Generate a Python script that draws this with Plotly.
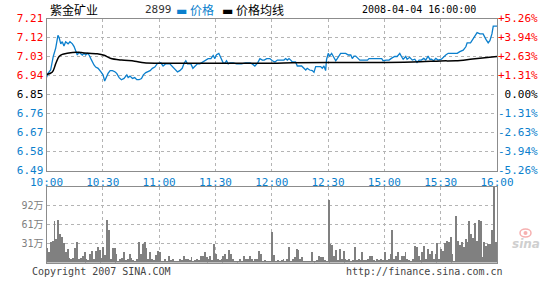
import plotly.graph_objects as go

# ---------------- data ----------------
prev_close = 6.85
time_labels = ["10:00", "10:30", "11:00", "11:30", "12:00", "12:30", "15:00", "15:30", "16:00"]
time_ticks = [0, 30, 60, 90, 120, 150, 180, 210, 240]   # trading-minute index

price_ticks = [7.21, 7.12, 7.03, 6.94, 6.85, 6.76, 6.67, 6.58, 6.49]
pct_labels = ["+5.26%", "+3.94%", "+2.63%", "+1.31%", "0.00%", "-1.31%", "-2.63%", "-3.94%", "-5.26%"]

price_minutes = [0, 0.8, 2.2, 3.6, 4.9, 6.1, 6.7, 7.6, 8.4, 9.3, 10.2, 11.5, 12.5, 13.8, 14.7, 15.6, 16.4, 17.3,
                 18.2, 19.1, 20, 20.9, 21.8, 22.7, 23.6, 24.4, 25.3, 26.2, 27.5, 28.9, 30.1, 31.0, 31.7, 32.8,
                 33.9, 35.1, 36.4, 37.4, 38.7, 39.9, 41.3, 42.8, 43.5, 44.5, 45.8, 47, 48.1, 49.3, 50.6, 51.6,
                 52.9, 54.1, 55.2, 56.4, 57.7, 59.1,
                 60.9, 62.1, 63.4, 65.7, 67, 68.4, 69.8, 71, 72.3, 73.3, 74.2, 75.1, 76.9, 78, 79, 80.4, 81.7,
                 83.5, 84.7, 86.1, 87.6, 88.8, 89.7, 90.6, 91.8, 92.9, 94.1, 95, 95.9, 96.8, 97.7, 99.5, 101.3,
                 103.9, 106.1, 108.4, 109.6, 111, 112.5, 113.7, 115, 116, 117.3, 119, 120.3,
                 121.7, 123, 126.5, 127.4, 128.3, 129.2, 130.1, 131, 132.7, 133.6, 135.9, 137.2, 138.1, 138.9,
                 140.2, 141.6, 142.5, 143.4, 146.05, 146.9, 147.8, 148.7, 149.2, 150.1, 150.8, 151.9, 153.2,
                 154.1, 154.9, 155.8, 156.7, 159.4, 160.8, 162.1, 162.9, 163.8, 164.7, 166.1, 166.9, 171,
                 171.8, 178.6, 179.3,
                 181.1, 182.5, 183.7, 185.5, 186.8, 188.2, 189.1, 190, 191.4, 192.1, 193.5, 194.9, 196.2,
                 197.4, 198.5, 199.7, 201, 202.05, 203.3, 204.2, 205.1, 206.3, 207.4, 208.6, 210.4, 211.6,
                 212.7, 214, 218.8, 220.2, 222, 223.4, 224.1, 225.9, 227.3, 228.2, 229.4, 230.9, 232.6, 234.1,
                 235.3, 236.2, 237.3, 238, 240]
price_values = [6.93, 6.95, 6.966, 7.03, 7.07, 7.13, 7.12, 7.09, 7.10, 7.08, 7.10, 7.09, 7.10, 7.09, 7.077, 7.053,
                7.037, 7.05, 7.045, 7.037, 7.045, 7.037, 7.045, 7.037, 7.02, 7.005, 6.99, 6.98, 6.974, 6.958,
                6.943, 6.914, 6.93, 6.95, 6.963, 6.963, 6.958, 6.95, 6.93, 6.92, 6.926, 6.943, 6.93, 6.937,
                6.926, 6.93, 6.92, 6.92, 6.926, 6.943, 6.954, 6.958, 6.963, 6.974, 6.98, 6.997,
                7.0, 6.985, 6.995, 6.995, 6.982, 6.966, 6.957, 6.963, 6.974, 6.998, 7.01, 6.995, 6.995, 6.974,
                6.985, 6.995, 6.995, 7.005, 7.013, 7.02, 7.02, 7.035, 7.02, 7.039, 7.045, 7.026, 7.0, 6.998,
                7.01, 6.995, 7.0, 7.0, 6.995, 6.995, 7.0, 7.0, 6.995, 6.985, 7.0, 7.02, 7.013, 7.013, 7.02,
                7.02, 7.01,
                7.004, 7.013, 7.013, 7.02, 7.013, 7.02, 7.013, 7.004, 7.004, 6.985, 6.985, 6.974, 6.966, 6.974,
                6.966, 6.963, 6.955, 6.982, 6.982, 6.974, 6.985, 6.963, 7.016, 7.045, 7.032, 7.045, 7.02,
                7.01, 7.02, 7.03, 7.045, 7.045, 7.037, 7.037, 7.02, 7.032, 7.032, 7.02, 7.013, 7.013,
                7.02, 7.02, 7.01,
                7.013, 7.013, 7.021, 7.03, 7.03, 7.045, 7.03, 7.017, 7.03, 7.017, 7.026, 7.013, 7.017,
                7.002, 7.013, 7.013, 7.021, 7.013, 7.032, 7.017, 7.017, 7.01, 7.021, 7.013, 7.017, 7.03,
                7.037, 7.045, 7.045, 7.053, 7.06, 7.076, 7.095, 7.095, 7.116, 7.124, 7.143, 7.137, 7.137, 7.111,
                7.095, 7.105, 7.137, 7.174, 7.174]

avg_minutes = [0, 3, 5, 6.7, 8.4, 11, 16, 20, 27, 30.7, 34, 40, 47, 52, 60, 90, 120, 131, 150, 181, 199, 210,
               218, 227, 240]
avg_values = [6.945, 6.955, 6.998, 7.03, 7.04, 7.045, 7.05, 7.047, 7.043, 7.036, 7.022, 7.013, 7.008, 7.0,
              6.998, 6.998, 6.998, 7.0, 7.002, 7.002, 7.005, 7.009, 7.01, 7.018, 7.03]

# volume per minute, in 万 shares
volume = [24, 17, 34, 36, 68, 38, 69, 47, 42, 33,
          17, 22, 8, 7, 8, 24, 34, 6, 8, 11,
          18, 7, 5, 14, 19, 7, 19, 26, 21, 8,
          26, 13, 70, 53, 7, 24, 25, 14, 4, 7,
          8, 18, 5, 7, 15, 8, 5, 3, 7, 34,
          14, 30, 34, 25, 7, 17, 7, 5, 13, 19,
          17, 4, 3, 7, 4, 11, 5, 7, 4, 4,
          4, 7, 5, 11, 7, 7, 5, 9, 4, 5,
          7, 5, 11, 11, 17, 10, 7, 11, 5, 31,
          14, 7, 5, 7, 11, 14, 7, 21, 15, 7,
          2, 2, 4, 7, 3, 11, 7, 7, 11, 7,
          4, 7, 7, 20, 14, 3, 5, 3, 2, 3,
          50, 13, 4, 5, 3, 5, 7, 3, 7, 26,
          3, 7, 10, 22, 21, 7, 10, 4, 2, 2,
          3, 17, 3, 4, 5, 11, 10, 10, 5, 4,
          102, 31, 29, 11, 21, 5, 22, 7, 20, 7,
          5, 7, 3, 5, 26, 5, 7, 5, 17, 5,
          5, 7, 11, 11, 5, 3, 7, 5, 7, 5,
          17, 5, 7, 14, 53, 7, 11, 17, 5, 11,
          11, 17, 7, 5, 4, 7, 27, 26, 11, 5,
          17, 27, 7, 22, 15, 20, 7, 15, 33, 7,
          22, 20, 33, 35, 34, 42, 15, 3, 76, 35,
          29, 34, 26, 38, 34, 68, 47, 41, 65, 35,
          69, 67, 10, 34, 27, 31, 31, 54, 122, 34, 31]
vol_ticks = [30.67, 61.33, 92.0]
vol_labels = ["31万", "61万", "92万"]
vol_max = 122.67

# ---------------- styling ----------------
BLUE = "#0b7fcd"
RED = "#ff0000"
GRID = "#b4b4b4"
FRAME = "#8c8c8c"
MONO = "DejaVu Sans Mono, Noto Sans CJK SC, monospace"
CJK = "Noto Sans CJK SC, DejaVu Sans, sans-serif"


def col_for(v):
    if v > prev_close + 1e-9:
        return RED
    if v < prev_close - 1e-9:
        return BLUE
    return "#000000"


left_text = [f'<span style="color:{col_for(v)}">{v:.2f}</span>' for v in price_ticks]
pct_vals = [(v - prev_close) / prev_close * 100 for v in price_ticks]
# right labels are right-aligned in the reference: pad with non-breaking spaces (monospace font)
right_text = [f'<span style="color:{col_for(v)}">{t.rjust(6, chr(160))}</span>'
              for v, t in zip(price_ticks, pct_labels)]
pct_range = [(price_ticks[-1] - prev_close) / prev_close * 100, (price_ticks[0] - prev_close) / prev_close * 100]

W, H = 545, 300
x_dom = [46.5 / W, 497 / W]
price_dom = [1 - 170.5 / H, 1 - 18.5 / H]
vol_dom = [1 - 262.5 / H, 1 - 186.5 / H]

fig = go.Figure()
fig.add_trace(go.Scatter(x=price_minutes, y=price_values, mode="lines",
                         line=dict(color=BLUE, width=1.3), xaxis="x", yaxis="y", name="价格"))
fig.add_trace(go.Scatter(x=avg_minutes, y=avg_values, mode="lines", line_shape="spline",
                         line=dict(color="#000000", width=1.5), xaxis="x", yaxis="y", name="价格均线"))
fig.add_trace(go.Scatter(x=[0, 240], y=pct_range, mode="lines", line=dict(width=0),
                         opacity=0, xaxis="x", yaxis="y2", showlegend=False, hoverinfo="skip"))
fig.add_trace(go.Bar(x=list(range(len(volume))), y=volume, width=0.5,
                     marker=dict(color="#808080", line=dict(width=0)), xaxis="x2", yaxis="y3"))

axis_common = dict(showgrid=True, gridcolor=GRID, griddash="dot", gridwidth=1, zeroline=False,
                   showline=True, linecolor=FRAME, linewidth=1, mirror=True, ticks="", automargin=False)

fig.update_layout(
    template="none",
    width=W, height=H, margin=dict(l=0, r=0, t=0, b=0, pad=0),
    paper_bgcolor="white", plot_bgcolor="white", showlegend=False, bargap=0,
    font=dict(family=MONO, size=10, color="#000"),
    xaxis=dict(domain=x_dom, range=[0, 240], tickvals=time_ticks, ticktext=time_labels,
               tickfont=dict(color=BLUE, size=11, family=MONO), anchor="y", ticklabelstandoff=1,
               **axis_common),
    yaxis=dict(domain=price_dom, range=[price_ticks[-1], price_ticks[0]], tickvals=price_ticks,
               ticktext=left_text, tickfont=dict(size=11, family=MONO), anchor="x", **axis_common),
    yaxis2=dict(overlaying="y", side="right", anchor="x", range=pct_range, tickvals=pct_vals,
                ticktext=right_text, tickfont=dict(size=11, family=MONO), showgrid=False,
                zeroline=False, showline=False, ticks="", automargin=False),
    xaxis2=dict(domain=x_dom, range=[0, 240], tickvals=time_ticks, showticklabels=False,
                anchor="y3", **axis_common),
    yaxis3=dict(domain=vol_dom, range=[0, vol_max], tickvals=vol_ticks, ticktext=vol_labels,
                tickfont=dict(color="#808080", size=10, family=MONO), anchor="x2", **axis_common),
)

ann = [
    dict(x=48, y=9, text="紫金矿业", font=dict(family=CJK, size=12, color="#000"), xanchor="left"),
    dict(x=143, y=9, text="2899", font=dict(family=MONO, size=11, color="#333"), xanchor="left"),
    dict(x=174, y=9, text=f'<span style="color:{BLUE}">▬</span> <span style="color:{BLUE}">价格</span>',
         font=dict(family=CJK, size=12), xanchor="left"),
    dict(x=220, y=9, text='▬ 价格均线', font=dict(family=CJK, size=12, color="#000"), xanchor="left"),
    dict(x=478, y=9, text="2008-04-04 16:00:00", font=dict(family=MONO, size=10, color="#000"),
         xanchor="right"),
    dict(x=30, y=271, text="Copyright 2007 SINA.COM", font=dict(family=MONO, size=10, color="#444"),
         xanchor="left"),
    dict(x=505, y=271, text="http://finance.sina.com.cn", font=dict(family=MONO, size=10, color="#444"),
         xanchor="right"),
    dict(x=526, y=244, text="<b><i>sina</i></b>", font=dict(family="DejaVu Sans", size=12, color="#cfcfcf")),
]
for a in ann:
    fig.add_annotation(xref="paper", yref="paper", x=a["x"] / W, y=1 - a["y"] / H, text=a["text"],
                       font=a["font"], xanchor=a.get("xanchor", "center"), yanchor="middle",
                       showarrow=False)

# decorative pink "eye" of the sina logo
fig.add_shape(type="circle", xref="paper", yref="paper",
              x0=520 / W, x1=531 / W, y0=1 - 237 / H, y1=1 - 229 / H,
              line=dict(color="#f6b0b0", width=1.5), fillcolor="rgba(0,0,0,0)")
fig.add_shape(type="circle", xref="paper", yref="paper",
              x0=523.5 / W, x1=527.5 / W, y0=1 - 235 / H, y1=1 - 231 / H,
              line=dict(width=0), fillcolor="#f6b0b0")

fig.write_html("out.html")
